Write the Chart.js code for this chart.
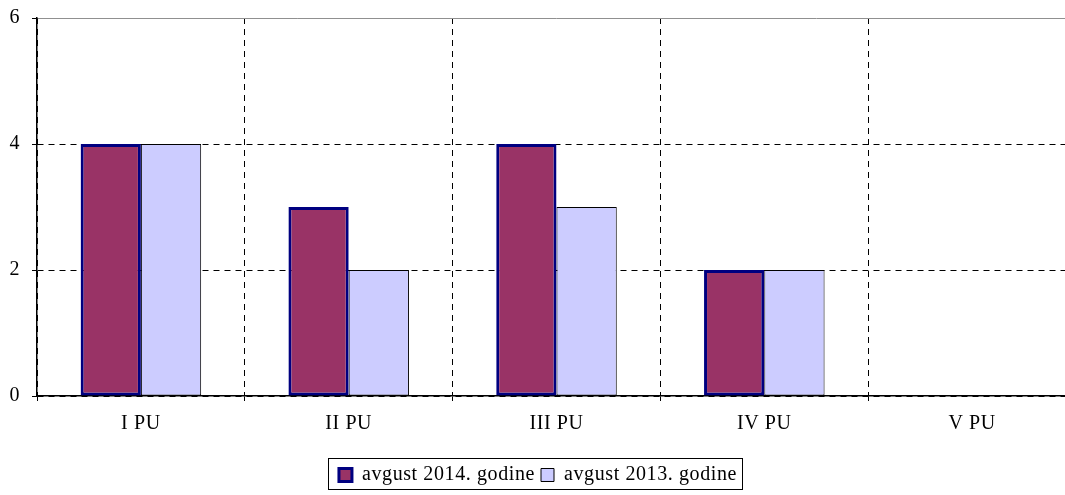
<!DOCTYPE html>
<html>
<head>
<meta charset="utf-8">
<script src="https://cdn.jsdelivr.net/npm/chart.js@4.4.1/dist/chart.umd.min.js"></script>
<style>
  html, body { margin: 0; padding: 0; background: #fff; overflow: hidden; }
  #wrap { position: absolute; left: 0; top: 0; width: 1080px; height: 495px; }
</style>
</head>
<body>
<div id="wrap"><canvas id="pu" width="1080" height="495"></canvas></div>
<script>
const categories = ['I PU', 'II PU', 'III PU', 'IV PU', 'V PU'];
const avgust2014 = [4, 3, 4, 2, 0];
const avgust2013 = [4, 2, 3, 2, 0];
const yTicks = [0, 2, 4, 6];

const serif = '"Liberation Serif", "Times New Roman", serif';

// the original text is a bit wider spaced than the canvas default
const spacing = {
    id: 'spacing',
    beforeUpdate(chart) { chart.ctx.letterSpacing = '0.6px'; },
    beforeDraw(chart) { chart.ctx.letterSpacing = '0.6px'; }
};

// box around the legend, like the original
const legendBox = {
    id: 'legendBox',
    afterDraw(chart) {
        const boxes = chart.legend.legendHitBoxes;
        if (!boxes || !boxes.length) return;
        const first = boxes[0];
        const last = boxes[boxes.length - 1];
        const ctx = chart.ctx;
        ctx.save();
        ctx.strokeStyle = '#000';
        ctx.lineWidth = 1;
        ctx.strokeRect(Math.round(first.left) - 10.5, 458.5,
            Math.round(last.left + last.width - first.left) + 16, 31);
        ctx.restore();
    }
};

new Chart(document.getElementById('pu').getContext('2d'), {
    type: 'bar',
    data: {
        labels: categories,
        datasets: [{
            label: 'avgust 2014. godine',
            data: avgust2014,
            backgroundColor: '#993366',
            borderColor: '#000080',
            borderWidth: 3,
            borderSkipped: false
        }, {
            label: 'avgust 2013. godine',
            data: avgust2013,
            backgroundColor: '#CCCCFF',
            borderColor: '#000000',
            borderWidth: 1,
            borderSkipped: false
        }]
    },
    options: {
        responsive: false,
        animation: false,
        layout: { padding: { top: 18, right: 4, left: 0, bottom: 0 } },
        datasets: { bar: { categoryPercentage: 0.58, barPercentage: 1 } },
        plugins: {
            legend: {
                position: 'bottom',
                labels: {
                    font: { family: serif, size: 20 },
                    color: '#000',
                    boxWidth: 13,
                    boxHeight: 13,
                    padding: 6
                }
            },
            tooltip: { enabled: false }
        },
        scales: {
            x: {
                grid: {
                    color: '#000',
                    tickColor: '#000',
                    tickLength: 5,
                    tickBorderDash: [],
                    offset: true
                },
                border: { color: '#000', width: 1.5, dash: [6, 5] },
                ticks: { font: { family: serif, size: 20 }, color: '#000', padding: 11 },
                afterFit(scale) { scale.height = 63; }
            },
            y: {
                min: 0,
                max: 6,
                afterBuildTicks(scale) { scale.ticks = yTicks.map(v => ({ value: v })); },
                grid: {
                    color: ctx => (ctx.tick && ctx.tick.value === 6) ? '#909090' : '#000',
                    tickColor: '#000',
                    tickLength: 5,
                    tickBorderDash: []
                },
                border: {
                    color: '#000', width: 1.5,
                    dash: ctx => (ctx.tick && ctx.tick.value === 6) ? [] : [6, 5]
                },
                ticks: { font: { family: serif, size: 20 }, color: '#000', padding: 12 },
                afterFit(scale) {
                    scale.width = 37;
                    scale.paddingTop = 0;
                    scale.paddingBottom = 0;
                }
            }
        }
    },
    plugins: [spacing, legendBox]
});
</script>
</body>
</html>
